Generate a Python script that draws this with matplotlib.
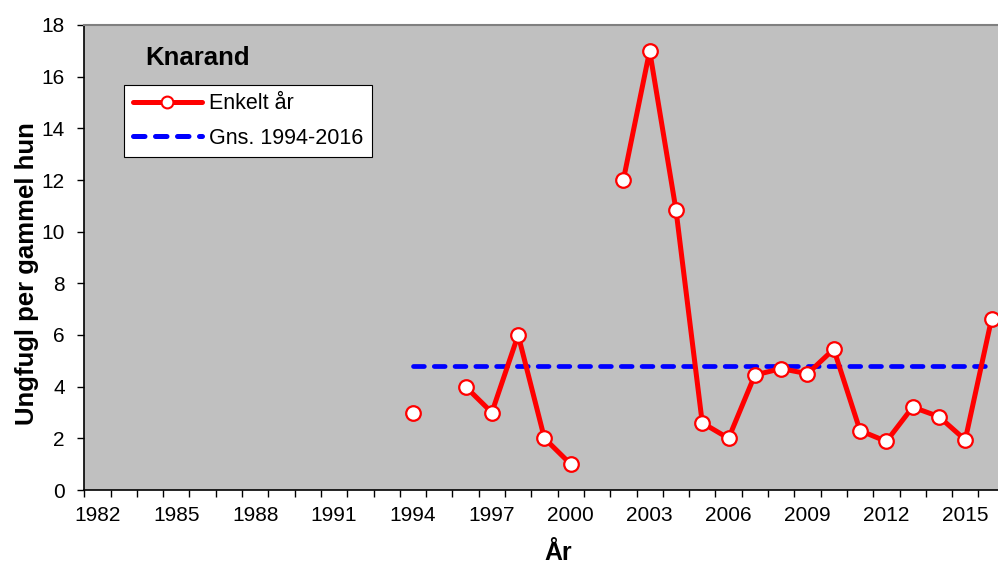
import numpy as np
import matplotlib.pyplot as plt
from matplotlib.lines import Line2D

plt.rcParams['font.family'] = ['Liberation Sans', 'DejaVu Sans']

# Données
annees = [1994, 1996, 1997, 1998, 1999, 2000,
          2002, 2003, 2004, 2005, 2006, 2007, 2008, 2009, 2010,
          2011, 2012, 2013, 2014, 2015, 2016]
valeurs = [3.0, 4.0, 3.0, 6.0, 2.0, 1.0,
           12.0, 17.0, 10.85, 2.6, 2.0, 4.45, 4.7, 4.5, 5.45,
           2.3, 1.88, 3.21, 2.84, 1.94, 6.62]
moyenne = 4.81
moyenne_annees = [1994, 2016]
etiquettes_x = list(range(1982, 2017, 3))
titre = "Knarand"

rouge = '#FF0000'
bleu = '#0000FF'
tirets = (0, (2.3, 2.1))

fig = plt.figure(figsize=(9.98, 5.67), dpi=100)
ax = fig.add_axes([84.2 / 998, 1 - 490 / 567, (1004.7 - 84.2) / 998, (490 - 25) / 567])
ax.set_facecolor('#C0C0C0')

# Série complète sur l'axe des catégories (les années manquantes coupent la courbe)
serie = np.full(2016 - 1982 + 1, np.nan)
for a, v in zip(annees, valeurs):
    serie[a - 1982] = v
x_cat = np.arange(1982, 2017)

ax.plot(moyenne_annees, [moyenne, moyenne], color=bleu, lw=3.4, ls=tirets,
        dash_capstyle='round', zorder=2)
ax.plot(x_cat, serie, color=rouge, lw=3.6, zorder=3, solid_capstyle='round')
ax.plot(annees, valeurs, ls='none', marker='o', markersize=10.5, markerfacecolor='white',
        markeredgecolor=rouge, markeredgewidth=1.6, zorder=4)

ax.set_xlim(1981.5, 2016.5)
ax.set_ylim(0, 18)
ax.set_yticks(range(0, 19, 2))
ax.set_xticks(etiquettes_x)
ax.set_xticklabels([str(a) for a in etiquettes_x])
ax.set_xticks(np.arange(1981.5, 2017, 1), minor=True)
ax.tick_params(axis='x', which='major', length=0, pad=11.5, labelsize=15)
ax.tick_params(axis='x', which='minor', length=5, width=1, direction='out')
ax.tick_params(axis='y', length=5, width=1, direction='out', labelsize=15, pad=9)

for cote in ['left', 'bottom']:
    ax.spines[cote].set_color('black')
    ax.spines[cote].set_linewidth(1.2)
ax.spines['top'].set_color('#808080')
ax.spines['top'].set_linewidth(1.5)
ax.spines['right'].set_visible(False)

fig.text(27 / 998, 1 - 274 / 567, "Ungfugl per gammel hun", fontsize=18.5, fontweight='bold',
         rotation=90, ha='center', va='center')
fig.text(558 / 998, 1 - 553 / 567, "År", fontsize=18, fontweight='bold', ha='center', va='center')
fig.text(145 / 998, 1 - 58 / 567, titre, fontsize=18.5, fontweight='bold', va='center', ha='left')

elements = [
    Line2D([0], [0], color=rouge, lw=3.6, marker='o', markersize=8.5, markerfacecolor='white',
           markeredgecolor=rouge, markeredgewidth=1.5, solid_capstyle='round'),
    Line2D([0], [0], color=bleu, lw=3.6, ls=tirets, dash_capstyle='round'),
]
leg = ax.legend(elements, ["Enkelt år", "Gns. 1994-2016"], loc='upper left',
                bbox_to_anchor=(124.5 / 998, 1 - 85 / 567), bbox_transform=fig.transFigure,
                fontsize=15.5, frameon=True, fancybox=False, framealpha=1,
                edgecolor='black', handlelength=3.2, handletextpad=0.35,
                borderpad=0.38, labelspacing=0.62, borderaxespad=0)
leg.get_frame().set_linewidth(0.8)

fig.savefig('out.png', dpi=100)
